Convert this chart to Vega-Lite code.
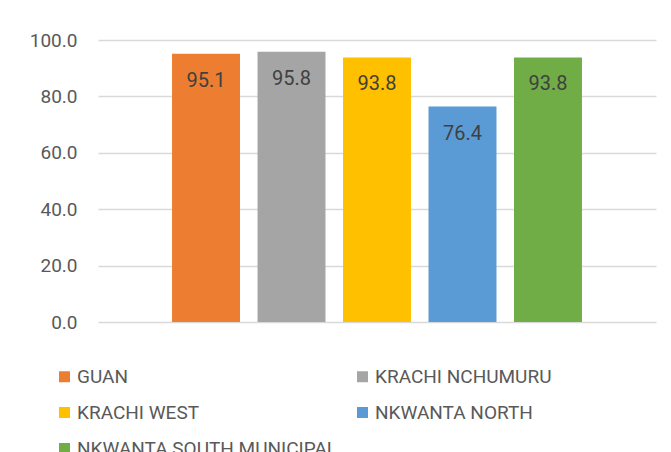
{
  "$schema": "https://vega.github.io/schema/vega-lite/v6.json",
  "width": 558,
  "height": 282,
  "autosize": {"type": "none"},
  "padding": {"left": 98, "top": 40, "right": 15, "bottom": 130},
  "background": "white",
  "data": {"values": [
    {"district": "GUAN", "value": 95.1},
    {"district": "KRACHI NCHUMURU", "value": 95.8},
    {"district": "KRACHI WEST", "value": 93.8},
    {"district": "NKWANTA NORTH", "value": 76.4},
    {"district": "NKWANTA SOUTH MUNICIPAL", "value": 93.8}
  ]},
  "encoding": {
    "x": {"field": "district", "type": "nominal", "sort": null, "axis": null,
          "scale": {"paddingInner": 0.205, "paddingOuter": 0.866}},
    "y": {"field": "value", "type": "quantitative",
          "scale": {"domain": [0, 100], "nice": false},
          "axis": {"title": null, "values": [0, 20, 40, 60, 80, 100], "format": ".1f",
                   "domain": false, "ticks": false, "labelPadding": 21,
                   "labelFont": "Roboto", "labelFontSize": 19, "labelColor": "#595959",
                   "gridColor": "#d9d9d9", "gridWidth": 1.5}}
  },
  "layer": [
    {"mark": {"type": "bar"},
     "encoding": {
       "color": {"field": "district", "type": "nominal", "sort": null,
                 "scale": {"domain": ["GUAN", "KRACHI NCHUMURU", "KRACHI WEST", "NKWANTA NORTH", "NKWANTA SOUTH MUNICIPAL"],
                           "range": ["#ED7D31", "#A5A5A5", "#FFC000", "#5B9BD5", "#70AD47"]},
                 "legend": {"title": null, "orient": "none", "legendX": -43, "legendY": 327,
                            "direction": "horizontal",
                            "columns": 2, "columnPadding": 15, "rowPadding": 16, "padding": 0,
                            "symbolType": "square", "symbolSize": 121, "symbolStrokeWidth": 0,
                            "labelOffset": 3, "labelFont": "Roboto", "labelFontSize": 19,
                            "labelColor": "#595959", "labelLimit": 400}}
     }},
    {"mark": {"type": "text", "baseline": "alphabetic", "dy": 33, "font": "Roboto", "fontSize": 20, "color": "#404040"},
     "encoding": {"text": {"field": "value", "type": "quantitative", "format": ".1f"}}}
  ],
  "config": {"view": {"stroke": null}}
}
